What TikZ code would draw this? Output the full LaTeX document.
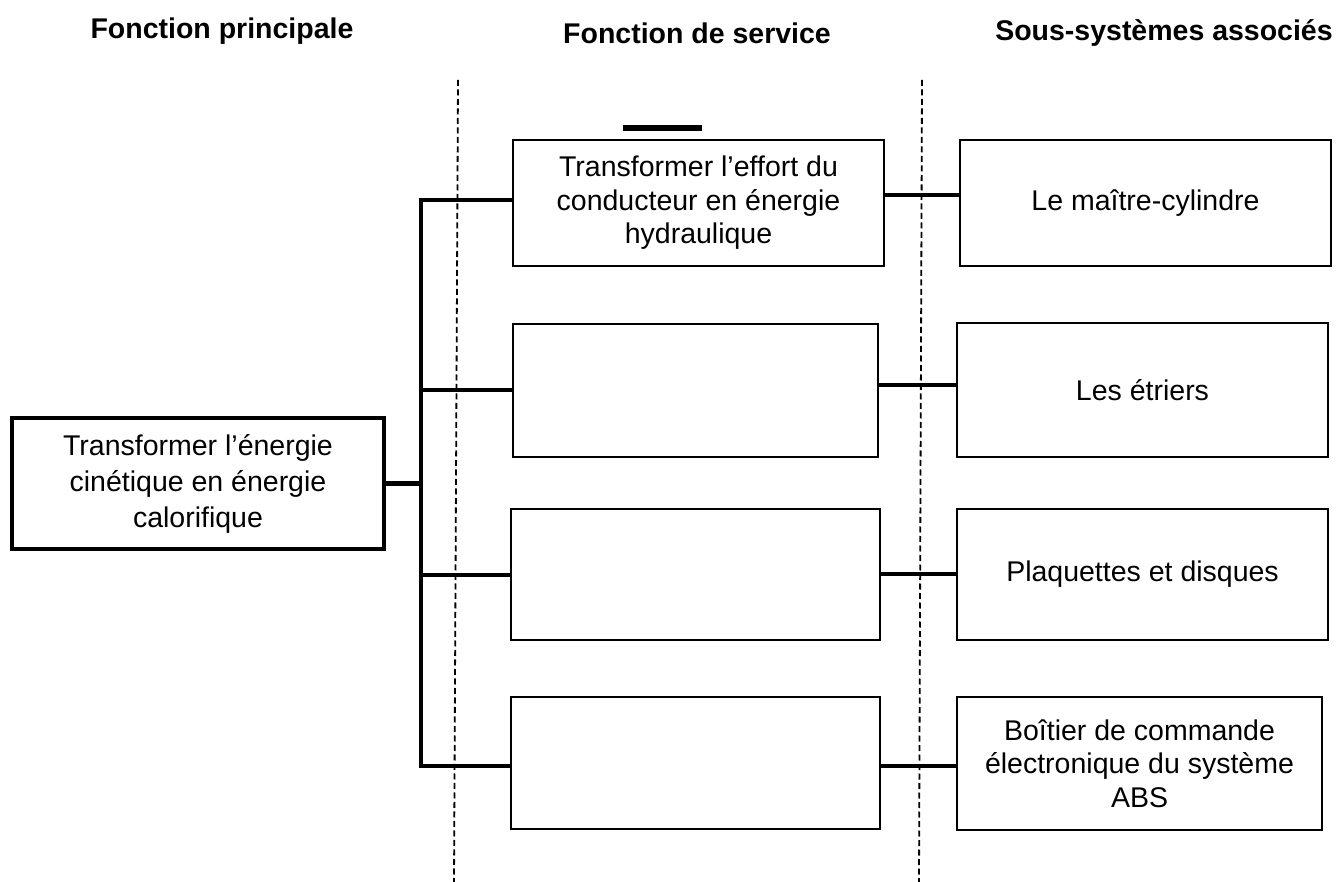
\documentclass[tikz,border=0pt]{standalone}
\usepackage{fontspec}
\setmainfont{Liberation Sans}
\begin{document}
\begin{tikzpicture}[x=1pt,y=-1pt,
  thinbox/.style={draw,line width=2.2pt,inner sep=0pt,align=center,font=\fontsize{28.5}{33.5}\selectfont},
  thickbox/.style={draw,line width=4.5pt,inner sep=0pt,align=center,font=\fontsize{28.5}{36}\selectfont},
  conn/.style={line width=4.5pt},
  sep/.style={line width=1.8pt,dash pattern=on 6pt off 3.5pt},
  head/.style={font=\fontsize{28.5}{32}\selectfont\bfseries,anchor=center}]
\useasboundingbox (0,0) rectangle (1343,882);
% headings
\node[head] (h1) at (222,31) {Fonction principale};
\node[head] (h2) at (697,33) {Fonction de service};
\node[head] (h3) at (1164,33) {Sous-systèmes associés};
% dashed separators
\coordinate (d1a) at (458,80); \coordinate (d1b) at (454,882);
\coordinate (d2a) at (922,80); \coordinate (d2b) at (919,882);
\draw[sep] (d1a) -- (d1b);
\draw[sep] (d2a) -- (d2b);
% left box
\node[thickbox,minimum width=372pt,minimum height=131pt] (L) at (198,483.5)
  {Transformer l’énergie\\cinétique en énergie\\calorifique};
% middle boxes
\node[thinbox,minimum width=371pt,minimum height=126pt] (M1) at (698.5,203)
  {Transformer l’effort du\\conducteur en énergie\\hydraulique};
\node[thinbox,minimum width=365pt,minimum height=133pt] (M2) at (695.5,390.5) {};
\node[thinbox,minimum width=369pt,minimum height=131pt] (M3) at (695.5,574.5) {};
\node[thinbox,minimum width=369pt,minimum height=132pt] (M4) at (695.5,763) {};
% right boxes
\node[thinbox,minimum width=371pt,minimum height=126pt] (R1) at (1145.5,203) {Le maître-cylindre};
\node[thinbox,minimum width=371pt,minimum height=134pt] (R2) at (1142.5,390) {Les étriers};
\node[thinbox,minimum width=371pt,minimum height=131pt] (R3) at (1142.5,574.5) {Plaquettes et disques};
\node[thinbox,minimum width=365pt,minimum height=133pt] (R4) at (1139.5,763.5)
  {Boîtier de commande\\électronique du système\\ABS};
% stray bar above first service box
\coordinate (b1) at (623,128); \coordinate (b2) at (702,128);
\draw[line width=5.5pt] (b1) -- (b2);
% trunk
\coordinate (t1) at (421,200);
\coordinate (t2) at (421,390);
\coordinate (t3) at (421,575);
\coordinate (t4) at (421,766);
\draw[conn,line cap=rect] (t1) -- (t4);
\draw[conn] (L.east) -- (L.east -| t1);
\draw[conn] (t1) -- (t1 -| M1.west);
\draw[conn] (t2) -- (t2 -| M2.west);
\draw[conn] (t3) -- (t3 -| M3.west);
\draw[conn] (t4) -- (t4 -| M4.west);
% middle to right
\coordinate (c1) at (884,195);
\coordinate (c2) at (878,385);
\coordinate (c3) at (880,574);
\coordinate (c4) at (880,766);
\draw[conn] (c1) -- (c1 -| R1.west);
\draw[conn] (c2) -- (c2 -| R2.west);
\draw[conn] (c3) -- (c3 -| R3.west);
\draw[conn] (c4) -- (c4 -| R4.west);
\end{tikzpicture}
\end{document}
